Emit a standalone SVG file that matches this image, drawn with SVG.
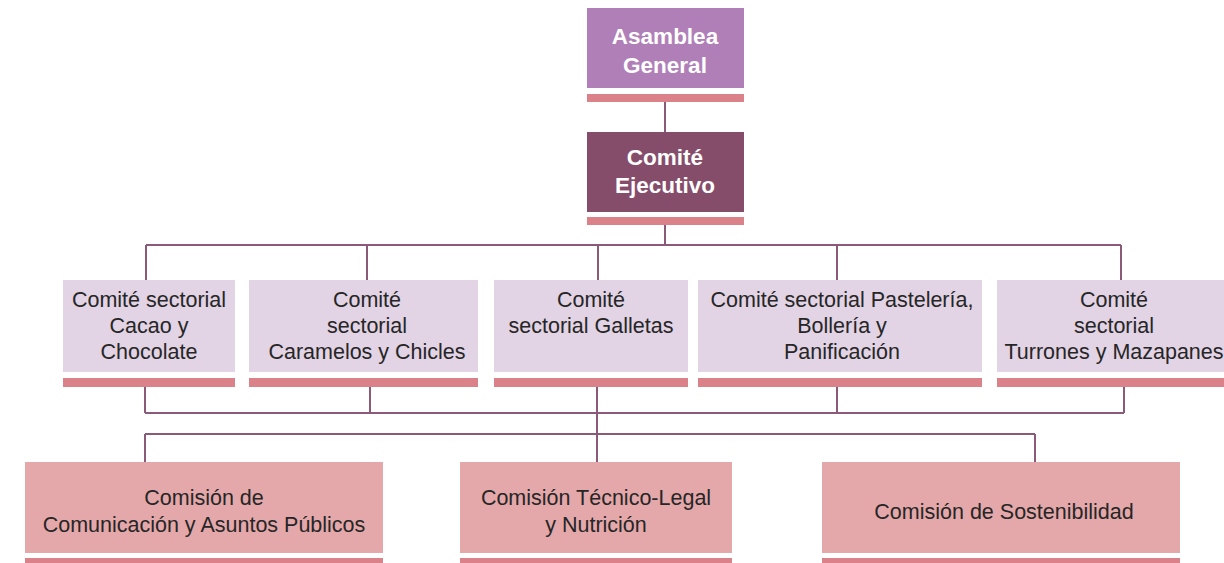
<svg xmlns="http://www.w3.org/2000/svg" width="1224" height="563" viewBox="0 0 1224 563">
<style>
.bar{fill:#db8189}
.top{fill:#b07fb8}
.exec{fill:#864d6b}
.sec{fill:#e2d3e5}
.com{fill:#e5a8aa}
.w{font-family:"Liberation Sans",Arial,sans-serif;font-size:22.5px;font-weight:bold;fill:#ffffff;text-anchor:middle}
.t{font-family:"Liberation Sans",Arial,sans-serif;font-size:21.5px;fill:#262626;text-anchor:middle}
.ln{fill:none;stroke:#8b5a78;stroke-width:2}
</style>
<rect width="1224" height="563" fill="#ffffff"/>
<g id="connectors">
<path class="ln" d="M665 102V132"/>
<path class="ln" d="M665 225V245M146 245H1121M146 245V280M367 245V280M598 245V280M837 245V280M1121 245V280"/>
<path class="ln" d="M145 387V413M370 387V413M597 387V413M837 387V413M1124 387V413M145 413H1124"/>
<path class="ln" d="M597 413V462M145 434H1035M145 434V462M1035 434V462"/>
</g>
<g id="asamblea">
<rect class="top" x="587" y="8" width="157" height="80"/>
<rect class="bar" x="587" y="94" width="157" height="8"/>
<text class="w" x="665" y="44">Asamblea</text>
<text class="w" x="665" y="73">General</text>
</g>
<g id="ejecutivo">
<rect class="exec" x="587" y="132" width="157" height="80"/>
<rect class="bar" x="587" y="217" width="157" height="8"/>
<text class="w" x="665" y="165">Comité</text>
<text class="w" x="665" y="193">Ejecutivo</text>
</g>
<g id="cacao">
<rect class="sec" x="63" y="280" width="172" height="92"/>
<rect class="bar" x="63" y="378" width="172" height="9"/>
<text class="t" x="149" y="307">Comité sectorial</text>
<text class="t" x="149" y="333">Cacao y</text>
<text class="t" x="149" y="359">Chocolate</text>
</g>
<g id="caramelos">
<rect class="sec" x="249" y="280" width="229" height="92"/>
<rect class="bar" x="249" y="378" width="229" height="9"/>
<text class="t" x="367" y="307">Comité</text>
<text class="t" x="367" y="333">sectorial</text>
<text class="t" x="367" y="359">Caramelos y Chicles</text>
</g>
<g id="galletas">
<rect class="sec" x="494" y="280" width="194" height="92"/>
<rect class="bar" x="494" y="378" width="194" height="9"/>
<text class="t" x="591" y="307">Comité</text>
<text class="t" x="591" y="333">sectorial Galletas</text>
</g>
<g id="pasteleria">
<rect class="sec" x="698" y="280" width="284" height="92"/>
<rect class="bar" x="698" y="378" width="284" height="9"/>
<text class="t" x="842" y="307">Comité sectorial Pastelería,</text>
<text class="t" x="842" y="333">Bollería y</text>
<text class="t" x="842" y="359">Panificación</text>
</g>
<g id="turrones">
<rect class="sec" x="997" y="280" width="227" height="92"/>
<rect class="bar" x="997" y="378" width="227" height="9"/>
<text class="t" x="1114" y="307">Comité</text>
<text class="t" x="1114" y="333">sectorial</text>
<text class="t" x="1114" y="359">Turrones y Mazapanes</text>
</g>
<g id="comunicacion">
<rect class="com" x="25" y="462" width="358" height="91"/>
<rect class="bar" x="25" y="558" width="358" height="5"/>
<text class="t" x="204" y="505">Comisión de</text>
<text class="t" x="204" y="532">Comunicación y Asuntos Públicos</text>
</g>
<g id="tecnico">
<rect class="com" x="460" y="462" width="272" height="91"/>
<rect class="bar" x="460" y="558" width="272" height="5"/>
<text class="t" x="596" y="505">Comisión Técnico-Legal</text>
<text class="t" x="596" y="532">y Nutrición</text>
</g>
<g id="sostenibilidad">
<rect class="com" x="822" y="462" width="358" height="91"/>
<rect class="bar" x="822" y="558" width="358" height="5"/>
<text class="t" x="1004" y="519">Comisión de Sostenibilidad</text>
</g>
</svg>
